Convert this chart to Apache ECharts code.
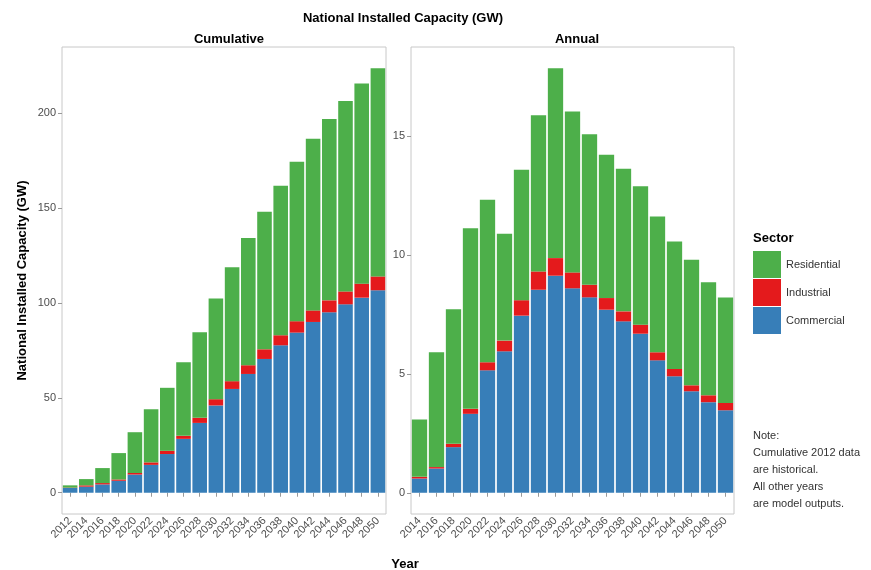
<!DOCTYPE html>
<html>
<head>
<meta charset="utf-8">
<script src="https://cdn.jsdelivr.net/npm/echarts@6/dist/echarts.min.js"></script>
<style>html,body{margin:0;padding:0;background:#fff;}#c{width:871px;height:570px;}</style>
</head>
<body>
<div id="c"></div>
<script>
var cumYears = ['2012','2014','2016','2018','2020','2022','2024','2026','2028','2030','2032','2034','2036','2038','2040','2042','2044','2046','2048','2050'];
var cumCommercial = [2.5,3.2,4.4,6.3,9.6,14.7,20.4,28.4,36.8,46.0,54.7,62.6,70.5,77.7,84.4,90.0,95.1,99.3,102.8,106.7];
var cumIndustrial = [0.2,0.7,0.7,0.7,0.8,1.3,1.7,1.6,2.7,3.3,4.1,4.6,5.1,5.3,6.0,6.1,6.3,6.8,7.4,7.3];
var cumResidential = [1.2,3.3,7.9,13.9,21.5,28.0,33.2,38.8,45.1,53.0,60.0,67.0,72.5,78.8,84.0,90.4,95.6,100.4,105.4,109.7];

var annYears = ['2014','2016','2018','2020','2022','2024','2026','2028','2030','2032','2034','2036','2038','2040','2042','2044','2046','2048','2050'];
var annCommercial = [0.60,1.02,1.92,3.32,5.15,5.95,7.45,8.54,9.13,8.60,8.22,7.70,7.21,6.69,5.57,4.90,4.27,3.81,3.47];
var annIndustrial = [0.07,0.06,0.14,0.21,0.34,0.45,0.65,0.77,0.74,0.67,0.53,0.49,0.42,0.38,0.34,0.31,0.25,0.29,0.31];
var annResidential = [2.41,4.83,5.66,7.60,6.83,4.50,5.49,6.57,7.99,6.77,6.33,6.03,6.00,5.82,5.71,5.36,5.28,4.75,4.43];

var cumTicks = [0,50,100,150,200];
var annTicks = [0,5,10,15];
var sectors = ['Residential','Industrial','Commercial'];
var colors = {Residential:'#4DAF4A', Industrial:'#E41A1C', Commercial:'#377EB8'};

var FONT = 'Liberation Sans, Arial, sans-serif';
var chart = echarts.init(document.getElementById('c'), null, {renderer:'canvas'});

function xAxis(idx, data){
  return {
    type:'category', gridIndex:idx, data:data,
    axisLine:{show:false},
    axisTick:{show:true, alignWithLabel:true, length:4, lineStyle:{color:'#999'}},
    axisLabel:{rotate:45, fontSize:11, color:'#4d4d4d', fontFamily:FONT, margin:5, interval:0},
    splitLine:{show:false}
  };
}
function yAxis(idx, min, max, ticks, name){
  return {
    type:'value', gridIndex:idx, min:min, max:max,
    name:name, nameLocation:'middle', nameRotate:90, nameGap:33,
    nameTextStyle:{fontSize:13, fontWeight:'bold', color:'#000', fontFamily:FONT},
    axisLine:{show:false},
    axisTick:{show:true, length:4, lineStyle:{color:'#999'}, customValues:ticks},
    axisLabel:{fontSize:11, color:'#4d4d4d', fontFamily:FONT, margin:6, customValues:ticks},
    splitLine:{show:false}
  };
}
function bar(name, idx, data){
  return {
    name:name, type:'bar', stack:'s'+idx, xAxisIndex:idx, yAxisIndex:idx,
    data:data, barCategoryGap:'10%', itemStyle:{color:colors[name]},
    emphasis:{disabled:true}
  };
}

chart.setOption({
  animation:false,
  backgroundColor:'#fff',
  title:[
    {text:'National Installed Capacity (GW)', left:398, top:7, textAlign:'center',
     textStyle:{fontSize:13, fontWeight:'bold', color:'#000', fontFamily:FONT}},
    {text:'Cumulative', left:224, top:28, textAlign:'center',
     textStyle:{fontSize:13, fontWeight:'bold', color:'#000', fontFamily:FONT}},
    {text:'Annual', left:572, top:28, textAlign:'center',
     textStyle:{fontSize:13, fontWeight:'bold', color:'#000', fontFamily:FONT}},
    {text:'Sector', left:748, top:227,
     textStyle:{fontSize:13, fontWeight:'bold', color:'#000', fontFamily:FONT}},
    {text:'Year', left:400, top:553, textAlign:'center',
     textStyle:{fontSize:13, fontWeight:'bold', color:'#000', fontFamily:FONT}},
    {text:'Note:\nCumulative 2012 data\nare historical.\nAll other years\nare model outputs.', left:748, top:422,
     textStyle:{fontSize:11, fontWeight:'normal', color:'#333', fontFamily:FONT, lineHeight:17}}
  ],
  legend:{
    data:sectors, orient:'vertical', left:748, top:246,
    itemWidth:28, itemHeight:27, itemGap:1, icon:'rect',
    textStyle:{fontSize:11, color:'#333', fontFamily:FONT}, selectedMode:false
  },
  grid:[
    {left:62, top:47, width:324, height:467, show:true, borderColor:'#c8c8c8', borderWidth:1, backgroundColor:'#fff'},
    {left:411, top:47, width:323, height:467, show:true, borderColor:'#c8c8c8', borderWidth:1, backgroundColor:'#fff'}
  ],
  xAxis:[xAxis(0, cumYears), xAxis(1, annYears)],
  yAxis:[yAxis(0, -11.2, 234.9, cumTicks, 'National Installed Capacity (GW)'), yAxis(1, -0.893, 18.75, annTicks, '')],
  series:[
    bar('Commercial',0,cumCommercial), bar('Industrial',0,cumIndustrial), bar('Residential',0,cumResidential),
    bar('Commercial',1,annCommercial), bar('Industrial',1,annIndustrial), bar('Residential',1,annResidential)
  ]
});
</script>
</body>
</html>
